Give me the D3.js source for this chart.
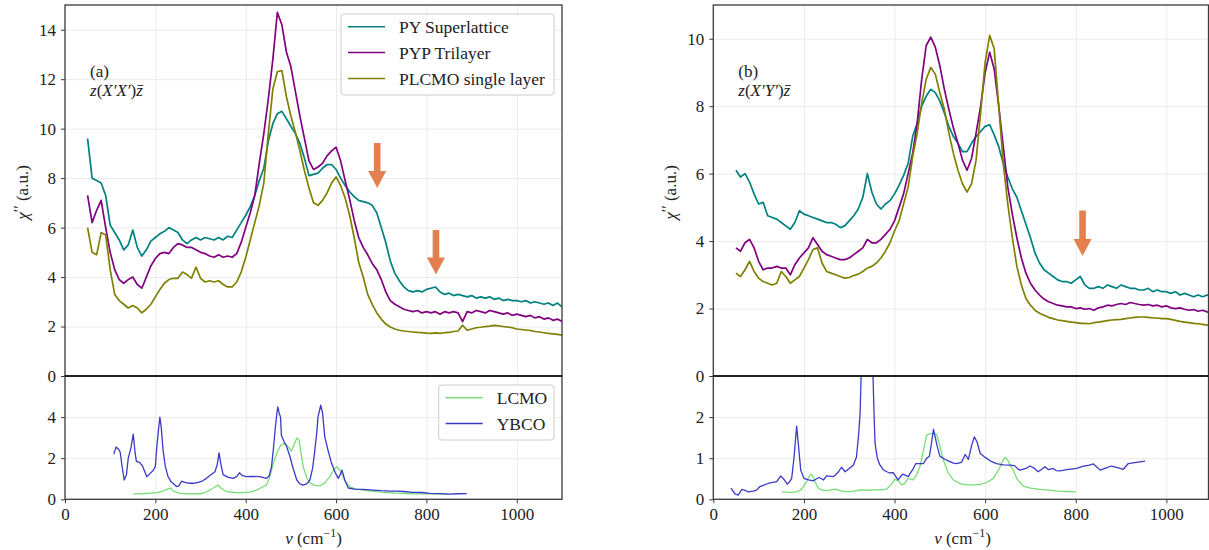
<!DOCTYPE html>
<html>
<head>
<script src="https://d3js.org/d3.v7.min.js"></script>
<title>Raman spectra</title>
<style>
  body { margin: 0; background: #fff; }
  svg text { font-family: "Liberation Serif", "DejaVu Serif", serif; }
</style>
</head>
<body>
<div id="container"></div>
<script>
// wavenumber grid of the measured spectra (cm^-1)
const nuGrid = [50, 60, 70, 80, 90, 100, 110, 120, 130, 140,
  150, 160, 170, 180, 190, 200, 210, 220, 230, 240,
  250, 260, 270, 280, 290, 300, 310, 320, 330, 340,
  350, 360, 370, 380, 390, 400, 410, 420, 430, 440,
  450, 460, 470, 480, 490, 500, 510, 520, 530, 540,
  550, 560, 570, 580, 590, 600, 610, 620, 630, 640,
  650, 660, 670, 680, 690, 700, 710, 720, 730, 740,
  750, 760, 770, 780, 790, 800, 810, 820, 830, 840,
  850, 860, 870, 880, 890, 900, 910, 920, 930, 940,
  950, 960, 970, 980, 990, 1000, 1010, 1020, 1030, 1040,
  1050, 1060, 1070, 1080, 1090, 1100];

// panel (a)  z(X'X')z
const aSuper = [9.6, 8.0, 7.9, 7.8, 7.3, 6.1, 5.8, 5.5, 5.1, 5.3,
  5.9, 5.2, 4.85, 5.1, 5.45, 5.6, 5.75, 5.85, 6.0, 5.9,
  5.8, 5.5, 5.35, 5.5, 5.6, 5.5, 5.6, 5.55, 5.5, 5.6,
  5.5, 5.65, 5.6, 5.9, 6.2, 6.5, 6.85, 7.3, 7.9, 8.4,
  9.5, 10.2, 10.6, 10.7, 10.4, 10.1, 9.8, 9.4, 8.8, 8.1,
  8.15, 8.2, 8.4, 8.55, 8.55, 8.35, 8.0, 7.7, 7.45, 7.25,
  7.1, 7.05, 7.0, 6.9, 6.6, 6.0, 5.4, 4.65, 4.15, 3.85,
  3.6, 3.45, 3.4, 3.45, 3.4, 3.5, 3.55, 3.6, 3.4, 3.3,
  3.35, 3.25, 3.3, 3.25, 3.2, 3.25, 3.15, 3.2, 3.15, 3.2,
  3.1, 3.15, 3.05, 3.1, 3.05, 3.05, 3.0, 3.05, 2.95, 3.0,
  2.95, 2.9, 2.95, 2.85, 2.95, 2.8];
const aTri = [7.3, 6.2, 6.7, 7.1, 6.0, 5.0, 4.3, 3.9, 3.75, 3.9,
  4.0, 3.7, 3.55, 4.0, 4.45, 4.75, 4.95, 5.0, 4.95, 5.2,
  5.35, 5.3, 5.2, 5.2, 5.1, 5.0, 4.95, 4.85, 4.8, 4.9,
  4.8, 4.85, 4.8, 4.95, 5.4, 6.0, 6.6, 7.3, 8.6, 9.8,
  11.2, 12.8, 14.7, 14.2, 13.1, 12.5, 11.5, 10.5, 9.6, 8.7,
  8.35, 8.45, 8.6, 8.9, 9.1, 9.25, 8.7, 7.9, 7.15, 6.3,
  5.6, 5.2, 4.9, 4.55, 4.3, 3.9, 3.4, 3.05, 2.9, 2.8,
  2.7, 2.65, 2.6, 2.65, 2.55, 2.6, 2.55, 2.6, 2.5, 2.6,
  2.55, 2.6, 2.55, 2.2, 2.6, 2.55, 2.65, 2.6, 2.55, 2.65,
  2.6, 2.55, 2.5, 2.55, 2.45, 2.5, 2.45, 2.4, 2.45, 2.35,
  2.4, 2.3, 2.35, 2.25, 2.3, 2.2];
const aSingle = [6.0, 5.0, 4.9, 5.8, 5.7, 4.3, 3.3, 3.05, 2.9, 2.75,
  2.85, 2.75, 2.55, 2.7, 2.9, 3.2, 3.5, 3.75, 3.9, 3.95,
  3.95, 4.2, 4.1, 3.95, 4.4, 3.95, 3.8, 3.85, 3.8, 3.85,
  3.7, 3.6, 3.6, 3.8, 4.2, 4.8, 5.5, 6.2, 6.9, 7.8,
  9.8, 11.6, 12.3, 12.35, 11.3, 10.5, 9.85, 9.1, 8.3, 7.6,
  7.0, 6.9, 7.1, 7.4, 7.8, 8.05, 7.7, 7.2, 6.5, 5.6,
  4.6, 4.0, 3.3, 2.9, 2.55, 2.3, 2.1, 1.98, 1.9, 1.85,
  1.82, 1.8, 1.78, 1.76, 1.75, 1.73, 1.72, 1.74, 1.72, 1.75,
  1.76, 1.8, 1.82, 2.05, 1.85, 1.9, 1.95, 1.97, 2.0, 2.02,
  2.05, 2.03, 2.0, 1.98, 1.95, 1.9, 1.88, 1.86, 1.84, 1.8,
  1.78, 1.75, 1.72, 1.7, 1.68, 1.65];

// panel (b)  z(X'Y')z
const bSuper = [6.1, 5.9, 6.0, 5.75, 5.4, 5.1, 5.15, 4.75, 4.7, 4.65,
  4.55, 4.45, 4.35, 4.55, 4.9, 4.8, 4.75, 4.7, 4.65, 4.6,
  4.55, 4.55, 4.5, 4.4, 4.45, 4.6, 4.75, 4.95, 5.3, 6.0,
  5.45, 5.1, 4.95, 5.1, 5.2, 5.4, 5.65, 5.95, 6.3, 7.1,
  7.5, 8.0, 8.3, 8.5, 8.4, 8.15, 7.8, 7.4, 7.1, 6.9,
  6.65, 6.65, 6.9, 7.1, 7.25, 7.4, 7.45, 7.15, 6.8, 6.3,
  5.9, 5.55, 5.3, 4.9, 4.5, 4.1, 3.65, 3.35, 3.15, 3.05,
  2.95, 2.85, 2.8, 2.8, 2.75, 2.85, 2.95, 2.7, 2.6, 2.6,
  2.65, 2.6, 2.7, 2.65, 2.6, 2.7, 2.65, 2.6, 2.6, 2.55,
  2.55, 2.6, 2.5, 2.55, 2.5, 2.5, 2.45, 2.5, 2.4, 2.45,
  2.4, 2.35, 2.4, 2.35, 2.4, 2.35];
const bTri = [3.8, 3.7, 3.95, 4.05, 3.8, 3.4, 3.15, 3.2, 3.2, 3.25,
  3.2, 3.2, 3.0, 3.3, 3.5, 3.65, 3.8, 4.1, 3.9, 3.7,
  3.6, 3.55, 3.5, 3.45, 3.45, 3.5, 3.6, 3.7, 3.8, 4.05,
  3.95, 3.95, 4.05, 4.2, 4.35, 4.6, 5.0, 5.4, 6.0, 6.6,
  7.5, 8.8, 9.8, 10.05, 9.75, 9.2, 8.5, 7.9, 7.35, 6.9,
  6.4, 6.1, 6.45, 7.2, 8.0, 9.0, 9.6, 9.1, 8.0, 6.8,
  5.6, 4.8, 4.1, 3.5, 3.05, 2.75, 2.55, 2.4, 2.28, 2.2,
  2.15, 2.1, 2.08, 2.05, 2.05, 2.0, 2.02, 1.98, 2.0, 1.95,
  2.02, 2.05, 2.1, 2.08, 2.12, 2.15, 2.12, 2.18, 2.15, 2.12,
  2.1, 2.12, 2.08, 2.1, 2.05, 2.08, 2.02, 2.0, 2.02, 1.98,
  1.95, 1.97, 1.92, 1.95, 1.9, 1.88];
const bSingle = [3.05, 2.95, 3.15, 3.4, 3.1, 2.9, 2.8, 2.75, 2.7, 2.75,
  3.1, 2.95, 2.75, 2.85, 2.95, 3.2, 3.45, 3.75, 3.8, 3.35,
  3.1, 3.05, 3.0, 2.95, 2.9, 2.92, 2.98, 3.02, 3.1, 3.2,
  3.25, 3.35, 3.5, 3.7, 3.95, 4.3, 4.6, 5.1, 5.6, 6.5,
  7.2, 8.1, 8.8, 9.15, 8.95, 8.4, 7.9, 7.2, 6.6, 6.1,
  5.7, 5.45, 5.7, 6.4, 7.8, 9.3, 10.1, 9.7, 8.0, 6.3,
  5.1, 4.1, 3.25, 2.7, 2.3, 2.1, 1.95, 1.86, 1.8, 1.74,
  1.7, 1.66, 1.64, 1.62, 1.6, 1.58, 1.56, 1.56, 1.55, 1.58,
  1.6, 1.62, 1.64, 1.66, 1.67, 1.68, 1.7, 1.72, 1.74, 1.75,
  1.75, 1.74, 1.72, 1.72, 1.7, 1.7, 1.68, 1.65, 1.62, 1.6,
  1.58, 1.56, 1.55, 1.53, 1.51, 1.5];

// reference spectra [nu, chi'']
const aLCMO = [[151,0.26],[170,0.27],[190,0.3],[203,0.32],[215,0.38],[225,0.48],[234,0.55],[240,0.4],[254,0.29],[270,0.27],[299,0.27],[310,0.33],[321,0.45],[332,0.6],[339,0.69],[345,0.55],[358,0.37],[375,0.33],[394,0.32],[410,0.35],[424,0.45],[437,0.6],[446,0.7],[452,1.0],[461,1.75],[470,2.3],[478,2.65],[485,2.72],[492,2.6],[501,2.35],[508,2.7],[513,2.98],[518,2.9],[522,2.3],[527,1.6],[535,1.05],[542,0.8],[553,0.68],[564,0.65],[575,0.8],[586,1.1],[595,1.45],[602,1.58],[609,1.4],[616,1.1],[623,0.8],[630,0.61],[645,0.5],[667,0.42],[700,0.35],[734,0.3],[770,0.27],[808,0.26],[850,0.25]];
const aYBCO = [[108,2.2],[113,2.55],[118,2.45],[122,2.3],[127,1.5],[131,0.94],[136,1.2],[140,2.0],[146,2.5],[151,3.17],[155,2.3],[158,1.85],[165,1.8],[172,1.6],[181,1.1],[188,1.25],[195,1.4],[200,1.6],[203,2.5],[207,3.4],[210,4.0],[213,3.5],[217,2.4],[222,1.6],[228,1.1],[235,0.85],[247,0.62],[252,0.65],[258,0.88],[265,0.82],[275,0.78],[284,0.78],[295,0.82],[305,0.9],[313,1.02],[320,1.15],[332,1.34],[337,1.7],[341,2.26],[345,1.7],[350,1.2],[360,1.08],[372,1.02],[380,1.1],[386,1.29],[393,1.15],[402,1.1],[415,1.12],[431,1.1],[446,1.02],[452,1.15],[457,1.58],[461,2.4],[465,3.36],[469,4.2],[471,4.5],[474,4.2],[477,4.0],[479,3.1],[485,2.8],[490,2.6],[498,2.07],[505,1.5],[513,0.94],[520,0.75],[527,0.69],[535,0.75],[542,0.94],[548,1.5],[553,2.39],[557,3.2],[560,4.01],[566,4.58],[570,4.2],[575,3.04],[582,2.4],[590,1.75],[598,1.3],[605,1.02],[609,1.2],[613,1.42],[616,1.2],[619,0.94],[627,0.55],[640,0.5],[660,0.48],[682,0.45],[700,0.42],[720,0.4],[734,0.4],[750,0.38],[770,0.34],[790,0.33],[808,0.29],[830,0.28],[850,0.25],[870,0.27],[889,0.28]];
const bLCMO = [[151,0.18],[170,0.17],[184,0.18],[192,0.22],[199,0.31],[207,0.45],[213,0.58],[217,0.61],[222,0.5],[227,0.37],[232,0.27],[240,0.22],[250,0.21],[260,0.23],[269,0.25],[280,0.21],[294,0.18],[310,0.2],[324,0.23],[340,0.22],[355,0.23],[370,0.23],[383,0.25],[392,0.35],[401,0.49],[408,0.45],[416,0.35],[422,0.38],[430,0.51],[441,0.47],[448,0.58],[456,0.79],[463,1.15],[471,1.56],[480,1.6],[487,1.6],[493,1.58],[500,1.3],[508,0.95],[518,0.65],[530,0.47],[545,0.38],[559,0.35],[575,0.35],[589,0.36],[605,0.42],[618,0.51],[630,0.72],[638,0.92],[644,1.02],[650,0.95],[656,0.82],[662,0.71],[670,0.5],[684,0.32],[700,0.27],[720,0.24],[736,0.23],[760,0.2],[780,0.19],[800,0.18]];
const bYBCO = [[39,0.27],[48,0.13],[55,0.1],[63,0.24],[70,0.22],[77,0.18],[88,0.2],[96,0.23],[103,0.31],[115,0.36],[125,0.4],[140,0.43],[149,0.57],[157,0.47],[163,0.37],[168,0.42],[173,0.51],[178,1.0],[184,1.78],[188,1.3],[193,0.71],[200,0.51],[210,0.47],[221,0.45],[228,0.5],[234,0.53],[243,0.47],[250,0.57],[265,0.55],[275,0.65],[283,0.78],[291,0.67],[300,0.75],[309,0.83],[316,1.03],[321,1.6],[324,2.09],[327,3.3],[333,8.0],[345,8.0],[352,3.2],[355,2.0],[357,1.36],[362,1.0],[368,0.83],[375,0.72],[383,0.67],[390,0.64],[397,0.65],[403,0.55],[408,0.47],[413,0.55],[418,0.61],[425,0.58],[430,0.55],[440,0.72],[447,0.87],[455,0.87],[464,0.87],[471,1.0],[477,1.05],[482,1.4],[486,1.7],[490,1.5],[494,1.3],[500,1.05],[510,0.98],[520,0.93],[530,0.88],[537,0.87],[548,0.9],[556,1.09],[563,0.97],[570,1.3],[576,1.52],[582,1.4],[589,1.12],[600,1.02],[612,0.93],[625,0.87],[640,0.84],[655,0.83],[665,0.82],[672,0.74],[677,0.71],[690,0.75],[699,0.81],[708,0.76],[717,0.67],[725,0.73],[732,0.79],[740,0.72],[750,0.75],[757,0.7],[765,0.69],[780,0.72],[795,0.74],[802,0.75],[815,0.8],[830,0.83],[839,0.86],[847,0.78],[854,0.71],[866,0.76],[879,0.81],[892,0.77],[905,0.73],[916,0.87],[930,0.89],[942,0.91],[953,0.93]];

const sampleNames = ["PY Superlattice", "PYP Trilayer", "PLCMO single layer"];
const sampleColors = ["#008080", "#800080", "#808000"];
const refNames = ["LCMO", "YBCO"];
const refColors = ["#77dd77", "#3a3ac6"];

const xTicks = [0, 200, 400, 600, 800, 1000];
const aTopTicks = [0, 2, 4, 6, 8, 10, 12, 14];
const aBotTicks = [0, 2, 4];
const bTopTicks = [0, 2, 4, 6, 8, 10];
const bBotTicks = [0, 1, 2];

// arrows: [nu, chi'' at tail, chi'' at tip]
const arrowsA = [[691, 9.42, 7.6], [821, 5.9, 4.1]];
const arrowsB = [[815, 4.91, 3.56]];

const tags = ["(a)", "(b)"];
const geometry = [["X′", "X′"], ["X′", "Y′"]];

const INK = "#222";
const FRAME = "#3a3a3a";
const GRID = "#ebebeb";
const ARROW = "#e4804f";
const fmt = d3.format("d");

const panels = [
  { left: 65, right: 562, xMax: 1100, topMax: 15, botMax: 6,
    topTicks: aTopTicks, botTicks: aBotTicks,
    series: [aSuper, aTri, aSingle], refs: [aLCMO, aYBCO], arrows: arrowsA, legend: true },
  { left: 713.3, right: 1208.5, xMax: 1093, topMax: 11, botMax: 3,
    topTicks: bTopTicks, botTicks: bBotTicks,
    series: [bSuper, bTri, bSingle], refs: [bLCMO, bYBCO], arrows: arrowsB, legend: false }
];
const TOP = 5, MID = 376, BOTTOM = 499.3;

const svg = d3.select("#container").append("svg")
  .attr("width", 1209).attr("height", 550)
  .style("display", "block");
const defs = svg.append("defs");

function gridLines(sel) {
  sel.select(".domain").remove();
  sel.selectAll(".tick line").attr("stroke", GRID).attr("stroke-width", 1);
}
function styleAxis(sel) {
  sel.select(".domain").remove();
  sel.selectAll(".tick line").attr("stroke", FRAME).attr("stroke-width", 1);
  sel.selectAll(".tick text").attr("fill", INK).style("font-size", "17px");
}

panels.forEach((p, k) => {
  const x = d3.scaleLinear().domain([0, p.xMax]).range([p.left, p.right]);
  const yT = d3.scaleLinear().domain([0, p.topMax]).range([MID, TOP]);
  const yB = d3.scaleLinear().domain([0, p.botMax]).range([BOTTOM, MID]);
  const w = p.right - p.left;
  const g = svg.append("g");

  defs.append("clipPath").attr("id", "clipT" + k).append("rect")
    .attr("x", p.left).attr("y", TOP).attr("width", w).attr("height", MID - TOP);
  defs.append("clipPath").attr("id", "clipB" + k).append("rect")
    .attr("x", p.left).attr("y", MID).attr("width", w).attr("height", BOTTOM - MID);

  // grid
  g.append("g").attr("transform", `translate(0,${MID})`)
    .call(d3.axisBottom(x).tickValues(xTicks.slice(1)).tickSize(-(MID - TOP)).tickFormat(""))
    .call(gridLines);
  g.append("g").attr("transform", `translate(0,${BOTTOM})`)
    .call(d3.axisBottom(x).tickValues(xTicks.slice(1)).tickSize(-(BOTTOM - MID)).tickFormat(""))
    .call(gridLines);
  g.append("g").attr("transform", `translate(${p.left},0)`)
    .call(d3.axisLeft(yT).tickValues(p.topTicks.slice(1)).tickSize(-w).tickFormat(""))
    .call(gridLines);
  g.append("g").attr("transform", `translate(${p.left},0)`)
    .call(d3.axisLeft(yB).tickValues(p.botTicks.slice(1)).tickSize(-w).tickFormat(""))
    .call(gridLines);

  // sample spectra
  const lineT = d3.line().x((d, i) => x(nuGrid[i])).y(d => yT(d));
  const gT = g.append("g").attr("clip-path", `url(#clipT${k})`);
  p.series.forEach((s, i) => {
    gT.append("path").attr("d", lineT(s)).attr("fill", "none")
      .attr("stroke", sampleColors[i]).attr("stroke-width", 1.7)
      .attr("stroke-linejoin", "round");
  });

  // arrows
  p.arrows.forEach(a => {
    const cx = x(a[0]), y0 = yT(a[1]), y1 = yT(a[2]);
    const sw = 3.3, hw = 9, hl = 17;
    const pts = [[cx - sw, y0], [cx + sw, y0], [cx + sw, y1 - hl], [cx + hw, y1 - hl],
      [cx, y1], [cx - hw, y1 - hl], [cx - sw, y1 - hl]];
    gT.append("path").attr("d", d3.line()(pts) + "Z").attr("fill", ARROW);
  });

  // reference spectra
  const lineB = d3.line().x(d => x(d[0])).y(d => yB(d[1]));
  const gB = g.append("g").attr("clip-path", `url(#clipB${k})`);
  p.refs.forEach((s, i) => {
    gB.append("path").attr("d", lineB(s)).attr("fill", "none")
      .attr("stroke", refColors[i]).attr("stroke-width", 1.3)
      .attr("stroke-linejoin", "round");
  });

  // frames
  g.append("rect").attr("x", p.left).attr("y", TOP).attr("width", w).attr("height", MID - TOP)
    .attr("fill", "none").attr("stroke", FRAME).attr("stroke-width", 1.3);
  g.append("rect").attr("x", p.left).attr("y", MID).attr("width", w).attr("height", BOTTOM - MID)
    .attr("fill", "none").attr("stroke", FRAME).attr("stroke-width", 1.3);
  g.append("line").attr("x1", p.left).attr("x2", p.right).attr("y1", MID).attr("y2", MID)
    .attr("stroke", "#222").attr("stroke-width", 1.8);

  // axes
  g.append("g").attr("transform", `translate(${p.left},0)`)
    .call(d3.axisLeft(yT).tickValues(p.topTicks).tickSize(4).tickPadding(5).tickFormat(fmt))
    .call(styleAxis);
  g.append("g").attr("transform", `translate(${p.left},0)`)
    .call(d3.axisLeft(yB).tickValues(p.botTicks).tickSize(4).tickPadding(5).tickFormat(fmt))
    .call(styleAxis);
  g.append("g").attr("transform", `translate(0,${BOTTOM})`)
    .call(d3.axisBottom(x).tickValues(xTicks).tickSize(4).tickPadding(5).tickFormat(fmt))
    .call(styleAxis);

  // axis labels
  const yl = g.append("text")
    .attr("transform", `translate(${p.left - 37},${(TOP + MID) / 2 + 2}) rotate(-90)`)
    .attr("text-anchor", "middle").attr("fill", INK).style("font-size", "17px");
  yl.append("tspan").attr("font-style", "italic").text("χ");
  yl.append("tspan").style("font-size", "16px").attr("dy", -3).text("′′");
  yl.append("tspan").attr("dy", 3).text(" (a.u.)");

  const xl = g.append("text").attr("x", p.left + 550 * (w / p.xMax)).attr("y", 544)
    .attr("text-anchor", "middle").attr("fill", INK).style("font-size", "17px");
  xl.append("tspan").attr("font-style", "italic").text("ν");
  xl.append("tspan").text(" (cm");
  xl.append("tspan").style("font-size", "12px").attr("dy", -7).text("−1");
  xl.append("tspan").attr("dy", 7).text(")");

  // panel annotation
  const ax0 = p.left + 25;
  g.append("text").attr("x", ax0).attr("y", 77).attr("fill", INK)
    .style("font-size", "17px").text(tags[k]);
  const ann = g.append("text").attr("x", ax0).attr("y", 96).attr("fill", INK)
    .style("font-size", "17px");
  ann.append("tspan").attr("font-style", "italic").text("z");
  ann.append("tspan").text("(");
  ann.append("tspan").attr("font-style", "italic").text(geometry[k][0]);
  ann.append("tspan").attr("font-style", "italic").text(geometry[k][1]);
  ann.append("tspan").text(")");
  const lastZ = ann.append("tspan").attr("font-style", "italic").text("z");
  // bar over the final z
  const zEnd = ax0 + ann.node().getComputedTextLength();
  const zLen = lastZ.node().getComputedTextLength();
  g.append("line").attr("x1", zEnd - zLen + 1.5).attr("x2", zEnd + 0.5)
    .attr("y1", 96 - 10.5).attr("y2", 96 - 10.5)
    .attr("stroke", INK).attr("stroke-width", 0.9);

  // legends
  if (p.legend) {
    const drawLegend = (names, colors, bx, by, bw, bh) => {
      const lg = g.append("g");
      lg.append("rect").attr("x", bx).attr("y", by).attr("width", bw).attr("height", bh)
        .attr("rx", 3).attr("fill", "#fff").attr("fill-opacity", 0.85)
        .attr("stroke", "#cccccc").attr("stroke-width", 1);
      names.forEach((n, i) => {
        const yy = by + 12.7 + i * 25.9;
        lg.append("line").attr("x1", bx + 7).attr("x2", bx + 44).attr("y1", yy).attr("y2", yy)
          .attr("stroke", colors[i]).attr("stroke-width", 1.5);
        lg.append("text").attr("x", bx + 58).attr("y", yy).attr("dy", "0.35em")
          .attr("fill", INK).style("font-size", "17.5px").text(n);
      });
    };
    drawLegend(sampleNames, sampleColors, p.right - 221, 14, 213, 81);
    drawLegend(refNames, refColors, p.right - 123.3, 385, 115.3, 55);
  }
});
</script>
</body>
</html>
